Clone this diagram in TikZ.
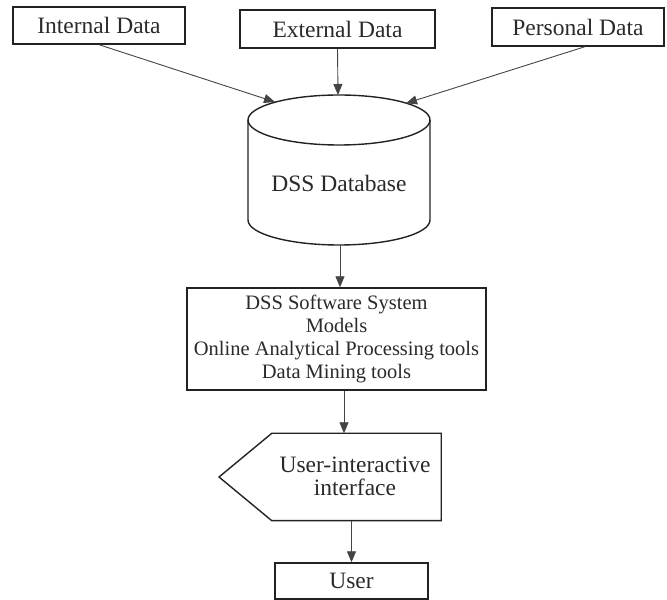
\documentclass[tikz,border=0pt]{standalone}
\usepackage{fontspec}
\setmainfont{Liberation Serif}
\usetikzlibrary{arrows.meta}
\definecolor{inkline}{HTML}{222222}
\definecolor{inktext}{HTML}{2A2A2A}
\definecolor{inkconn}{HTML}{444444}
\begin{document}
\begin{tikzpicture}[x=1pt,y=1pt,
  lbl/.style={font=\fontsize{23.5}{23.3}\selectfont, text=inktext, align=center, inner sep=0pt},
  databox/.style={lbl, draw=inkline, line width=1.4pt, rectangle, anchor=center},
  outline/.style={draw=inkline, line width=1.4pt, line join=miter},
  conn/.style={draw=inkconn, line width=0.9pt, -{Triangle[length=11pt,width=9pt]}}]
\useasboundingbox (0,0) rectangle (667,600);

% data sources
\node[databox, minimum width=172, minimum height=37] (int) at (99,574.5) {Internal Data};
\node[databox, minimum width=195, minimum height=38] (ext) at (337.5,571) {External Data};
\node[databox, minimum width=172, minimum height=38] (per) at (578,573) {Personal Data};

% database cylinder
\coordinate (dbc) at (339,480);
\draw[outline] (dbc) ellipse [x radius=91, y radius=25];
\draw[outline] (248,480) -- (248,380) arc[start angle=180, end angle=360, x radius=91, y radius=25] -- (430,480);
\node[lbl] (db) at (339,417) {DSS Database};
\coordinate (dbtl) at (275,498);
\coordinate (dbtop) at (338,505);
\coordinate (dbtr) at (406,496.7);
\coordinate (dbbot) at (340,355);

% software system
\node[databox, font=\fontsize{20.5}{23}\selectfont, minimum width=299, minimum height=102] (sw) at (336.5,261)
  {DSS Software System\\Models\\Online Analytical Processing tools\\Data Mining tools};

% user interface (pointed box)
\node[minimum width=169, minimum height=87, inner sep=0pt] (ui) at (356.5,123) {};
\coordinate (uitip) at (219,123);
\draw[outline] (ui.north west) -- (ui.north east) -- (ui.south east) -- (ui.south west) -- (uitip) -- cycle;
\node[lbl] (uitext) at (355,124) {User-interactive\\interface};

% user
\node[databox, minimum width=153, minimum height=36] (user) at (351.5,19) {User};

% connectors
\draw[conn] (int.south) -- (dbtl);
\draw[conn] (ext.south) -- (dbtop);
\draw[conn] ([xshift=7pt]per.south) -- (dbtr);
\draw[conn] (dbbot) -- (dbbot |- sw.north);
\draw[conn] ([xshift=7.5pt]sw.south) -- ([xshift=7.5pt]sw.south |- ui.north);
\draw[conn] (user.north |- ui.south) -- (user.north);
\end{tikzpicture}
\end{document}
